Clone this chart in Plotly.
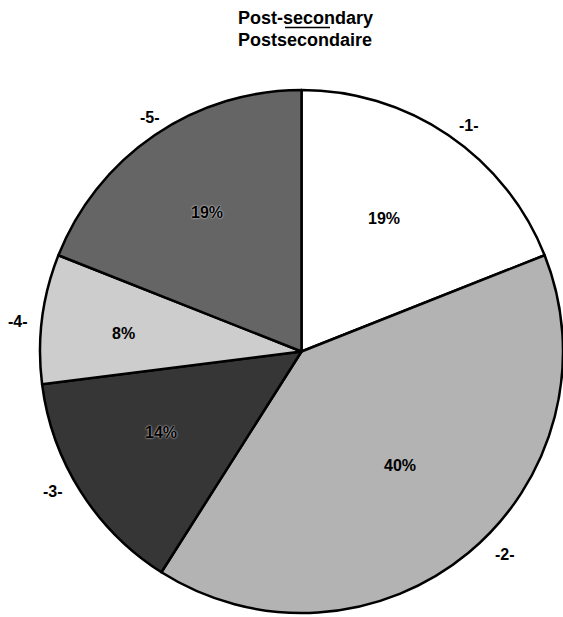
import math
import plotly.graph_objects as go

# ---- data ----
categories = ["-1-", "-2-", "-3-", "-4-", "-5-"]
shares = [19, 40, 14, 8, 19]
pct_labels = ["19%", "40%", "14%", "8%", "19%"]
title_line1 = "Post-secondary"
title_line2 = "Postsecondaire"

# ---- style ----
colors = ["#ffffff", "#b3b3b3", "#363636", "#cdcdcd", "#656565"]
pct_radius = [0.60, 0.575, 0.62, 0.685, 0.645]   # fraction of radius for % text
pct_dang = [-2.3, -1.2, 2.5, -1.3, 0.0]          # angular nudge (deg) for % text
lab_radius = [1.077, 1.10, 1.09, 1.09, 1.065]    # fraction of radius for category labels
lab_dang = [2.4, -5.5, 3.0, -1.2, 1.2]           # angular nudge (deg) for labels
W, H = 563, 617
dom_x = [0.0711, 1.0]
dom_y = [0.0065, 0.8541]
FONT = "Liberation Sans, Arial, sans-serif"

fig = go.Figure(go.Pie(
    labels=categories,
    values=shares,
    sort=False,
    direction="clockwise",
    rotation=0,
    textinfo="none",
    hoverinfo="label+percent",
    marker=dict(colors=colors, line=dict(color="black", width=2.5)),
    domain=dict(x=dom_x, y=dom_y),
    showlegend=False,
))

# geometry of the pie in pixels (derived from domain)
cx = (dom_x[0] + dom_x[1]) / 2 * W
cy = (1 - (dom_y[0] + dom_y[1]) / 2) * H
R = min((dom_x[1] - dom_x[0]) * W, (dom_y[1] - dom_y[0]) * H) / 2

total = sum(shares)
annotations = []
cum = 0
for i, v in enumerate(shares):
    mid_deg = (cum + v / 2) / total * 360.0  # clockwise from 12 o'clock
    cum += v
    for rf, da, txt, inside in ((pct_radius[i], pct_dang[i], pct_labels[i], True),
                                (lab_radius[i], lab_dang[i], categories[i], False)):
        a = math.radians(mid_deg + da)
        px = cx + rf * R * math.sin(a)
        py = cy - rf * R * math.cos(a)
        annotations.append(dict(
            x=px / W, y=1 - py / H, xref="paper", yref="paper",
            text="<b>%s</b>" % txt, showarrow=False,
            font=dict(family=FONT, size=16, color="black",
                      shadow="0px 0px 2px white" if (inside and i in (2, 4)) else "none"),
            xanchor="center", yanchor="middle",
        ))

annotations.append(dict(x=305 / W, y=1 - 18 / H, xref="paper", yref="paper",
                        text="<b>%s</b>" % title_line1, showarrow=False,
                        font=dict(family=FONT, size=18, color="black"),
                        xanchor="center", yanchor="middle"))
annotations.append(dict(x=305 / W, y=1 - 40 / H, xref="paper", yref="paper",
                        text="<b>%s</b>" % title_line2, showarrow=False,
                        font=dict(family=FONT, size=18, color="black"),
                        xanchor="center", yanchor="middle"))

fig.update_layout(
    width=W, height=H,
    margin=dict(l=0, r=0, t=0, b=0),
    paper_bgcolor="white",
    plot_bgcolor="white",
    annotations=annotations,
    shapes=[dict(type="line", xref="paper", yref="paper",
                 x0=285 / W, x1=330 / W, y0=1 - 27.5 / H, y1=1 - 27.5 / H,
                 line=dict(color="black", width=1.5))],
)

fig.write_html("out.html",
               config={"displayModeBar": False},
               post_script="document.body.style.margin='0px';document.body.style.overflow='hidden';")
